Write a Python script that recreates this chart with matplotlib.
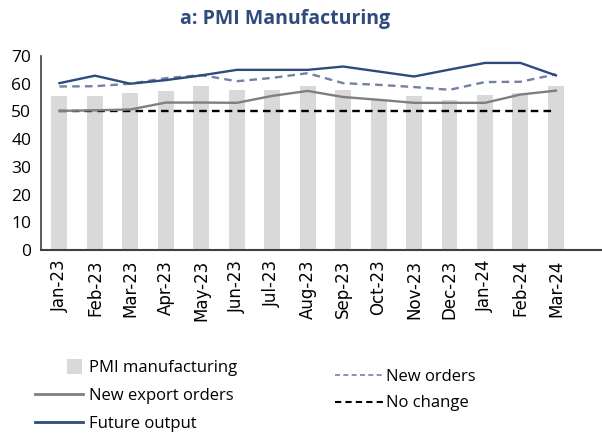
import matplotlib
matplotlib.use("Agg")
import matplotlib.pyplot as plt
from matplotlib.lines import Line2D
from matplotlib.patches import Patch, Rectangle
from matplotlib.legend_handler import HandlerPatch

plt.rcParams['font.family'] = ['Open Sans', 'DejaVu Sans']

months = ["Jan-23", "Feb-23", "Mar-23", "Apr-23", "May-23", "Jun-23", "Jul-23", "Aug-23",
          "Sep-23", "Oct-23", "Nov-23", "Dec-23", "Jan-24", "Feb-24", "Mar-24"]
pmi = [55.4, 55.4, 56.6, 57.2, 59.0, 57.9, 57.9, 59.0, 57.9, 54.2, 55.4, 54.3, 56.1, 56.5, 59.0]
new_export = [50.2, 50.4, 50.7, 53.2, 53.2, 53.1, 55.6, 57.4, 55.2, 54.2, 53.1, 53.1, 53.1, 56.1, 57.5]
future_output = [60.2, 62.9, 60.0, 61.3, 63.0, 65.0, 65.0, 65.0, 66.2, 64.4, 62.6, 65.1, 67.5, 67.5, 63.0]
new_orders = [59.0, 59.1, 60.0, 62.0, 63.1, 60.9, 62.1, 63.8, 60.2, 59.6, 58.8, 57.8, 60.6, 60.7, 63.4]
no_change = [50] * len(months)

c_bar = "#D9D9D9"
c_future = "#2F4A7C"
c_neworders = "#7480A6"
c_export = "#7F7F7F"

fig = plt.figure(figsize=(6.02, 4.43), dpi=100)
ax = fig.add_axes([41/602, 1-250/443, 1-41/602, (250-56)/443])

x = list(range(len(months)))
ax.bar(x, pmi, width=0.45, color=c_bar, zorder=1, label="PMI manufacturing")
ax.plot(x, new_export, color=c_export, lw=1.7, zorder=3, label="New export orders")
ax.plot(x, future_output, color=c_future, lw=1.7, zorder=4, label="Future output")
ax.plot(x, new_orders, color=c_neworders, lw=1.7, ls=(0, (3.2, 2.2)), zorder=3, label="New orders")
ax.plot(x, no_change, color="black", lw=1.7, ls=(0, (3.2, 2.2)), zorder=2, label="No change")

ax.set_xlim(-0.52, 15.3)
ax.set_ylim(0, 70)
ax.set_yticks(range(0, 71, 10))
ax.set_xticks(x)
ax.set_xticklabels(months, rotation=90, fontsize=12, family=['DejaVu Sans'])
ax.tick_params(axis='y', labelsize=12.5, length=0, pad=7)
ax.tick_params(axis='x', length=0, pad=7)
for s in ['top', 'right']:
    ax.spines[s].set_visible(False)
ax.spines['left'].set_color("#404040")
ax.spines['bottom'].set_color("#404040")
ax.spines['left'].set_linewidth(1.2)
ax.spines['bottom'].set_linewidth(1.5)

fig.text(285/602, 1-19/443, "a: PMI Manufacturing", ha='center', va='center',
         fontsize=14, fontweight='bold', color="#2F4A7C")


def small_square(legend, orig_handle, xdescent, ydescent, width, height, fontsize):
    s = 15 * 72 / 100
    return Rectangle((width - s - 0.1 * fontsize - xdescent, height/2 - s/2 - ydescent), s, s)


h_left = [Patch(facecolor=c_bar, edgecolor='none'),
          Line2D([], [], color=c_export, lw=2.0),
          Line2D([], [], color=c_future, lw=2.0)]
l_left = ["PMI manufacturing", "New export orders", "Future output"]
leg1 = fig.legend(h_left, l_left, loc='upper left', bbox_to_anchor=(20/602, 1-345/443),
                  frameon=False, fontsize=12, handlelength=2.9, handletextpad=0.35,
                  labelspacing=0.71, handler_map={Patch: HandlerPatch(patch_func=small_square)})

h_right = [Line2D([], [], color=c_neworders, lw=1.2, ls=(0, (3, 2))),
           Line2D([], [], color="black", lw=1.5, ls=(0, (3, 2)))]
l_right = ["New orders", "No change"]
leg2 = fig.legend(h_right, l_right, loc='upper left', bbox_to_anchor=(320/602, 1-354/443),
                  frameon=False, fontsize=12, handlelength=2.9, handletextpad=0.15,
                  labelspacing=0.62)

fig.savefig("out.png", dpi=100)
